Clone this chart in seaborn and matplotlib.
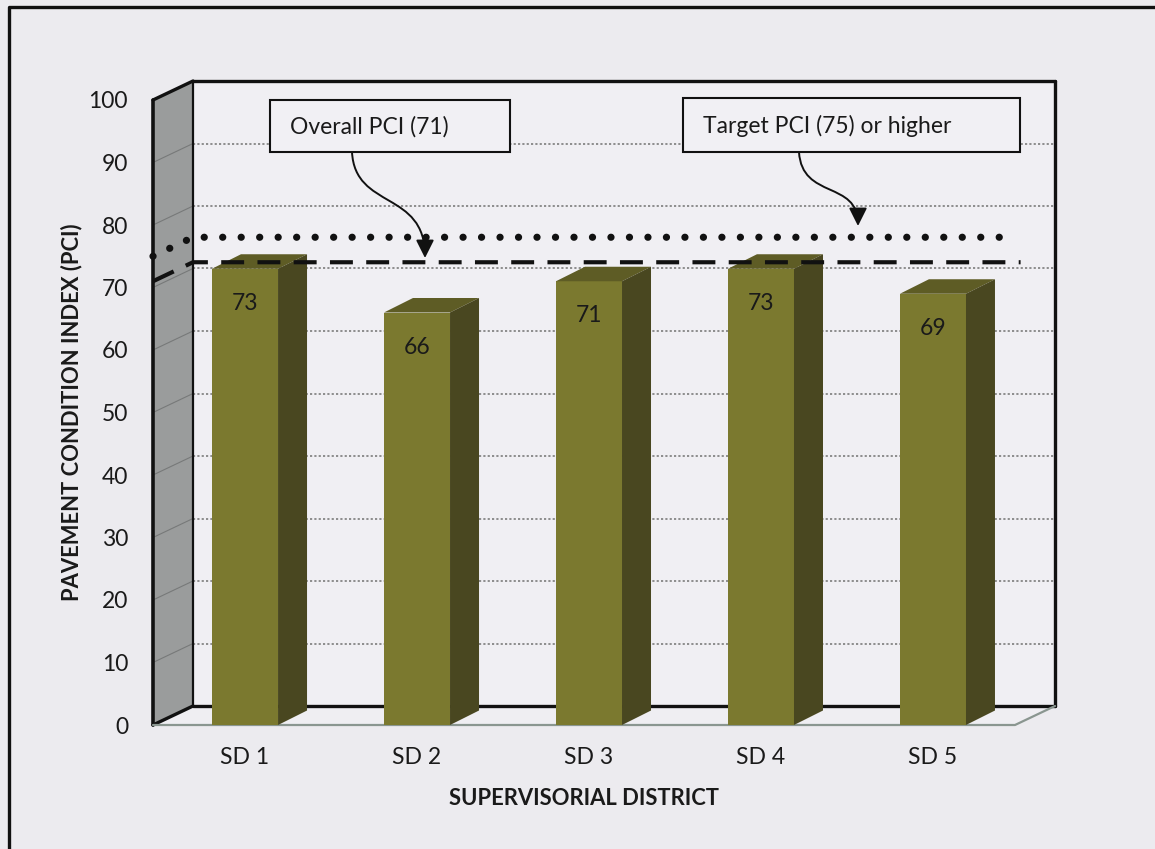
import numpy as np
import pandas as pd
import seaborn as sns
import matplotlib.pyplot as plt
import matplotlib.transforms as mtransforms
from matplotlib.patches import Polygon, Rectangle, FancyArrowPatch
from matplotlib.path import Path
from matplotlib.lines import Line2D

# data
districts = ["SD 1", "SD 2", "SD 3", "SD 4", "SD 5"]
pci = [73, 66, 71, 73, 69]
overall_pci = 71
target_pci = 75
y_ticks = list(range(0, 101, 10))

BG = "#ECEBEF"
WALL = "#F0EFF3"
FLOOR = "#EFEEF2"
GRAY_WALL = "#9A9C9C"
FRONT = "#7B792F"
TOP = "#5E5C25"
SIDE = "#494720"

sns.set_theme(style="white")
plt.rcParams['font.family'] = ['Lato', 'DejaVu Sans']

fig = plt.figure(figsize=(11.55, 8.49), dpi=100, facecolor=BG)
ax = fig.add_axes([153 / 1155, 124 / 849, 862 / 1155, 625 / 849])
ax.set_facecolor("none")

df = pd.DataFrame({"district": districts, "pci": pci})
sns.barplot(data=df, x="district", y="pci", color=FRONT, saturation=1,
            width=0.384, ax=ax, zorder=2, linewidth=0)
bars = list(ax.patches)

ax.set_xlim(-0.535, 4.477)
ax.set_ylim(0, 100)
XL, XR = ax.get_xlim()

# depth of the fake 3d box (data units) and of the bars
DX, DY = 40 / 172, 19 / 6.25
BDX, BDY = 29 / 172, 14.5 / 6.25

# walls and floor
ax.add_patch(Rectangle((XL + DX, DY), XR - XL, 100, fc=WALL, ec="none",
                       zorder=0.1, clip_on=False))
ax.add_patch(Polygon([(XL, 0), (XR, 0), (XR + DX, DY), (XL + DX, DY)],
                     fc=FLOOR, ec="none", zorder=0.3, clip_on=False))
ax.add_patch(Polygon([(XL, 0), (XL, 100), (XL + DX, 100 + DY), (XL + DX, DY)],
                     fc=GRAY_WALL, ec="none", zorder=0.5, clip_on=False))

for v in y_ticks[1:-1]:
    ax.plot([XL + DX, XR + DX], [v + DY, v + DY], color="#858585", lw=1.3,
            ls=(0, (1.2, 1.2)), zorder=0.4, clip_on=False)
    ax.plot([XL, XL + DX], [v, v + DY], color="#777979", lw=0.8,
            zorder=0.6, clip_on=False)

edge = dict(color="#111111", solid_capstyle="round", clip_on=False, zorder=0.7)
ax.plot([XL, XL], [0, 100], lw=2.6, **edge)
ax.plot([XL, XL + DX], [100, 100 + DY], lw=2.4, **edge)
ax.plot([XL, XL + DX], [0, DY], lw=2.4, **edge)
ax.plot([XL + DX, XR + DX], [100 + DY, 100 + DY], lw=2.4, **edge)
ax.plot([XL + DX, XL + DX], [DY, 100 + DY], lw=1.6, **edge)
ax.plot([XR + DX, XR + DX], [DY, 100 + DY], lw=2.4, **edge)
ax.plot([XL + DX, XR + DX], [DY, DY], lw=2.4, **edge)
ax.plot([XL, XR, XR + DX], [0, 0, DY], color="#8A9690", lw=1.6,
        zorder=0.7, clip_on=False)

# 3d faces of bars and value labels
for p in bars:
    x0, w, h = p.get_x(), p.get_width(), p.get_height()
    ax.add_patch(Polygon([(x0, h), (x0 + w, h), (x0 + w + BDX, h + BDY), (x0 + BDX, h + BDY)],
                         fc=TOP, ec="none", zorder=2))
    ax.add_patch(Polygon([(x0 + w, 0), (x0 + w, h), (x0 + w + BDX, h + BDY), (x0 + w + BDX, BDY)],
                         fc=SIDE, ec="none", zorder=2))
    ax.annotate(f"{h:.0f}", (x0 + w / 2, h), xytext=(0, -25), textcoords="offset points",
                ha="center", va="center", fontsize=16.5, color="#1a1a1a", zorder=4)

# reference lines, drawn across the left wall and the back wall
XEND = XR + DX - 0.2
ax.plot([XL, XL + DX, XEND], [overall_pci, overall_pci + DY, overall_pci + DY],
        color="#111111", lw=3, ls=(0, (5.5, 3.2)), zorder=3, clip_on=False)
ax.plot([XL, XL + DX, XEND - 0.04], [target_pci, target_pci + DY, target_pci + DY],
        color="#111111", lw=5.2, ls=(0, (0.01, 2.55)), dash_capstyle="round",
        zorder=3, clip_on=False)

ax.set_yticks(y_ticks)
ax.tick_params(axis="y", length=0, pad=18, labelsize=16.5, labelcolor="#1a1a1a")
ax.tick_params(axis="x", length=0, pad=16, labelsize=16.5, labelcolor="#1a1a1a")
sns.despine(ax=ax, left=True, bottom=True, right=True, top=True)
ax.grid(False)

ax.set_ylabel("PAVEMENT CONDITION INDEX (PCI)", fontsize=15.8, fontweight="bold", color="#1a1a1a")
ax.set_xlabel("SUPERVISORIAL DISTRICT", fontsize=15.8, fontweight="bold", color="#1a1a1a")
ax.yaxis.set_label_coords((82 - 153) / 862, (725 - 412) / 625)
ax.xaxis.set_label_coords(0.5, (725 - 788) / 625)

# callouts placed in pixel space (origin top left)
PX = mtransforms.Affine2D().scale(1 / 1155, -1 / 849).translate(0, 1) + fig.transFigure

fig.add_artist(Rectangle((270, 100), 240, 52, transform=PX, fc="#F1F0F4", ec="#111111", lw=1.5))
fig.text(290, 127, "Overall PCI (71)", transform=PX, ha="left", va="center",
         fontsize=16.5, color="#1a1a1a")
fig.add_artist(Rectangle((683, 98), 337, 54, transform=PX, fc="#F1F0F4", ec="#111111", lw=1.5))
fig.text(703, 126, "Target PCI (75) or higher", transform=PX, ha="left", va="center",
         fontsize=16.5, color="#1a1a1a")

curve = [Path.MOVETO, Path.CURVE4, Path.CURVE4, Path.CURVE4]
arrow1 = Path([(352, 152), (355, 210), (425, 190), (425, 258)], curve)
arrow2 = Path([(799, 152), (802, 200), (858, 180), (858, 226)], curve)
for pth in (arrow1, arrow2):
    fig.add_artist(FancyArrowPatch(path=pth, transform=PX, arrowstyle="-|>,head_length=0.5,head_width=0.25",
                                   mutation_scale=22, lw=1.4, color="#111111"))

# outer frame (left and top edges visible)
fig.add_artist(Line2D([9, 9, 1160], [860, 7, 7], transform=PX, color="#111111", lw=2.4))

fig.savefig("out.png", dpi=100, facecolor=BG)
